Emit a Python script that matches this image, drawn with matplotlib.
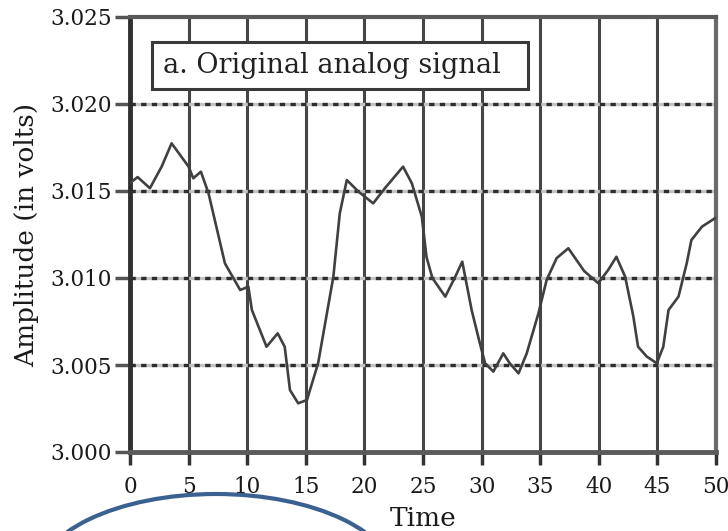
import matplotlib
matplotlib.use("Agg")
import matplotlib.pyplot as plt
from matplotlib.patches import Rectangle, Ellipse
import numpy as np

# ---- data ----
time = [0, 0.65, 1.7, 2.7, 3.55, 5.0, 5.4, 6.05, 6.7, 8.1,
        9.4, 10.1, 10.4, 11.65, 12.6, 13.2, 13.65, 14.35, 15.1, 16.05,
        17.35, 17.9, 18.5, 19.5, 20.75, 21.75, 23.3, 24.05, 24.9, 25.3,
        25.8, 26.9, 27.75, 28.35, 29.15, 29.85, 30.3, 31.0, 31.85, 32.4,
        33.15, 33.85, 34.85, 35.55, 36.4, 37.4, 38.75, 39.95, 40.8, 41.5,
        42.25, 42.95, 43.35, 44.1, 44.95, 45.5, 45.95, 46.8, 47.5, 47.9,
        48.8, 49.9]
amplitude = [3.01546, 3.01580, 3.01516, 3.01640, 3.01774, 3.01640, 3.01573, 3.01611, 3.01487, 3.01084,
             3.00931, 3.00950, 3.00816, 3.00605, 3.00682, 3.00605, 3.00356, 3.00280, 3.00299, 3.00510,
             3.01007, 3.01372, 3.01563, 3.01496, 3.01429, 3.01516, 3.01640, 3.01544, 3.01352, 3.01120,
             3.01000, 3.00893, 3.01007, 3.01094, 3.00816, 3.00625, 3.00510, 3.00462, 3.00567, 3.00510,
             3.00452, 3.00567, 3.00797, 3.00989, 3.01114, 3.01171, 3.01040, 3.00970, 3.01046, 3.01122,
             3.01007, 3.00778, 3.00605, 3.00548, 3.00510, 3.00605, 3.00816, 3.00893, 3.01084, 3.01218,
             3.01295, 3.01343]
x_ticks = [0, 5, 10, 15, 20, 25, 30, 35, 40, 45, 50]
y_ticks = [3.000, 3.005, 3.010, 3.015, 3.020, 3.025]
legend_label = "a. Original analog signal"
x_label = "Time"
y_label = "Amplitude (in volts)"

plt.rcParams['font.family'] = ['DejaVu Serif']

fig = plt.figure(figsize=(7.28, 5.31), dpi=100)
ax = fig.add_axes([130/728, 1-452/531, 586/728, 435/531])

ax.set_xlim(0, 50)
ax.set_ylim(3.000, 3.025)

# vertical grid (solid)
for xv in x_ticks[1:-1]:
    ax.axvline(xv, color='#454545', lw=2.2, zorder=1)
# horizontal grid (dotted)
for yv in y_ticks[1:-1]:
    ax.axhline(yv, color='#c4c4c4', lw=2.4, zorder=1)
    ax.axhline(yv, color='#2e2e2e', lw=2.4, linestyle=(0, (1.6, 1.6)), zorder=1.1)

ax.plot(time, amplitude, color='#404040', lw=1.9, zorder=3)

ax.set_xticks(x_ticks)
ax.set_yticks(y_ticks)
ax.set_yticklabels([f"{v:.3f}" for v in y_ticks])
ax.tick_params(axis='y', direction='out', length=11, width=2.5, color='#555555',
               labelsize=15.5, pad=2, labelcolor='#1a1a1a')
ax.tick_params(axis='x', direction='out', length=9, width=2.5, color='#333333',
               labelsize=15.5, pad=8, labelcolor='#1a1a1a')

for side, col, lw in [('left', '#303030', 3.5), ('bottom', '#5a5a5a', 3.5),
                      ('top', '#5a5a5a', 3.0), ('right', '#6a6a6a', 3.0)]:
    ax.spines[side].set_color(col)
    ax.spines[side].set_linewidth(lw)

ax.set_xlabel(x_label, fontsize=19, labelpad=6, color='#1a1a1a')
ax.set_ylabel(y_label, fontsize=19, labelpad=8, color='#1a1a1a')

# legend-like box
box = Rectangle((0.0375, 0.834), 0.6415, 0.1085, transform=ax.transAxes,
                facecolor='white', edgecolor='#3a3a3a', lw=2.2, zorder=5)
ax.add_patch(box)
ax.text(0.056, 0.888, legend_label, transform=ax.transAxes, fontsize=19.5,
        va='center', ha='left', color='#222222', zorder=6)

# decorative blue ellipse at the bottom
ell = Ellipse((216/728, 1 - 581/531), 360/728, 174/531, transform=fig.transFigure,
              facecolor='none', edgecolor='#3b6190', lw=3, clip_on=False)
fig.patches.append(ell)

fig.savefig("out.png", dpi=100)
